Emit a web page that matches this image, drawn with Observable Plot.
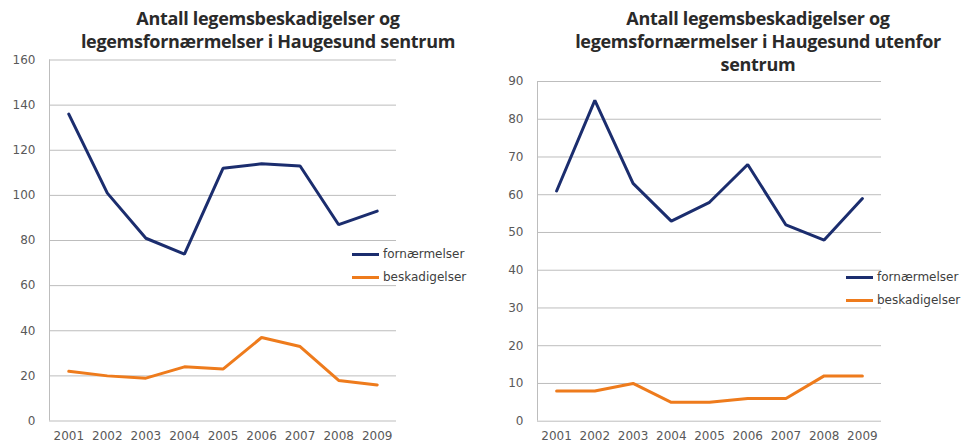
<!DOCTYPE html>
<html>
<head>
<meta charset="utf-8">
<script src="https://cdn.jsdelivr.net/npm/d3@7"></script>
<script src="https://cdn.jsdelivr.net/npm/@observablehq/plot@0.6"></script>
<style>
  html, body { margin: 0; padding: 0; background: #fff; }
  #root { position: relative; width: 961px; height: 443px; overflow: hidden; }
  .panel { position: absolute; top: 0; }
  .title { position: absolute; text-align: center; font-family: "Open Sans", sans-serif; font-weight: 700;
           color: #2a2a2a; font-size: 18px; line-height: 23px; white-space: nowrap; letter-spacing: -0.3px; }
  .legend { position: absolute; font-family: "DejaVu Sans", sans-serif; font-size: 12px; color: #404040; }
  .legend div { position: absolute; white-space: nowrap; height: 16px; line-height: 16px; }
  .legend span.sw { position: absolute; left: 0; top: 6.5px; width: 27px; height: 3px; }
  .legend span.tx { position: absolute; left: 31px; top: 0; }
</style>
</head>
<body>
<div id="root"></div>
<script>
const years = [2001, 2002, 2003, 2004, 2005, 2006, 2007, 2008, 2009];
const seriesNames = ["fornærmelser", "beskadigelser"];

const sentrumFornaermelser = [136, 101, 81, 74, 112, 114, 113, 87, 93];
const sentrumBeskadigelser = [22, 20, 19, 24, 23, 37, 33, 18, 16];
const sentrumTicks = [0, 20, 40, 60, 80, 100, 120, 140, 160];

const utenforFornaermelser = [61, 85, 63, 53, 58, 68, 52, 48, 59];
const utenforBeskadigelser = [8, 8, 10, 5, 5, 6, 6, 12, 12];
const utenforTicks = [0, 10, 20, 30, 40, 50, 60, 70, 80, 90];

const titleSentrum = ["Antall legemsbeskadigelser og", "legemsfornærmelser i Haugesund sentrum"];
const titleUtenfor = ["Antall legemsbeskadigelser og", "legemsfornærmelser i Haugesund utenfor", "sentrum"];

const colors = {"fornærmelser": "#1b2d6e", "beskadigelser": "#ee7b1c"};

function rows(forn, besk) {
  const out = [];
  years.forEach((y, i) => out.push({year: y, value: forn[i], series: "fornærmelser"}));
  years.forEach((y, i) => out.push({year: y, value: besk[i], series: "beskadigelser"}));
  return out;
}

function makeChart(opts) {
  const data = rows(opts.forn, opts.besk);
  const xDomain = [years[0] - 0.5, years[years.length - 1] + 0.5];
  return Plot.plot({
    width: opts.width,
    height: 443,
    marginLeft: opts.ml,
    marginRight: opts.mr,
    marginTop: opts.mt,
    marginBottom: opts.mb,
    style: {fontFamily: "DejaVu Sans, sans-serif", fontSize: "12px", color: "#595959", background: "transparent"},
    x: {domain: xDomain, ticks: years, tickFormat: d => String(d), tickSize: 0, tickPadding: 10, label: null},
    y: {domain: [opts.yTicks[0], opts.yTicks[opts.yTicks.length - 1]], ticks: opts.yTicks, tickSize: 0, tickPadding: 14, label: null},
    color: {domain: seriesNames, range: seriesNames.map(s => colors[s])},
    marks: [
      Plot.ruleY(opts.yTicks, {stroke: "#bdbdbd", strokeWidth: 1}),
      Plot.ruleX([xDomain[0]], {stroke: "#bdbdbd", strokeWidth: 1}),
      Plot.lineY(data, {x: "year", y: "value", z: "series", stroke: "series", strokeWidth: 3, strokeLinejoin: "miter"})
    ]
  });
}

const root = document.getElementById("root");

function addPanel(left, chart, titleLines, titleBox, legendPos) {
  const p = document.createElement("div");
  p.className = "panel";
  p.style.left = left + "px";
  p.appendChild(chart);
  const t = document.createElement("div");
  t.className = "title";
  t.style.left = titleBox.left + "px";
  t.style.width = titleBox.width + "px";
  t.style.top = titleBox.top + "px";
  t.innerHTML = titleLines.map(s => s.replace(/&/g, "&amp;")).join("<br>");
  p.appendChild(t);
  const lg = document.createElement("div");
  lg.className = "legend";
  lg.style.left = legendPos.left + "px";
  lg.style.top = legendPos.top + "px";
  seriesNames.forEach((s, i) => {
    const row = document.createElement("div");
    row.style.top = (i * legendPos.gap) + "px";
    row.style.left = "0px";
    row.innerHTML = `<span class="sw" style="background:${colors[s]}"></span><span class="tx">${s}</span>`;
    lg.appendChild(row);
  });
  p.appendChild(lg);
  root.appendChild(p);
}

addPanel(0,
  makeChart({forn: sentrumFornaermelser, besk: sentrumBeskadigelser, yTicks: sentrumTicks, width: 480, ml: 49, mr: 84, mt: 59.5, mb: 22.5}),
  titleSentrum, {left: 38, width: 460, top: 7}, {left: 352, top: 246, gap: 23});

addPanel(480,
  makeChart({forn: utenforFornaermelser, besk: utenforBeskadigelser, yTicks: utenforTicks, width: 481, ml: 57, mr: 80, mt: 81, mb: 22.3}),
  titleUtenfor, {left: 48, width: 460, top: 7}, {left: 366, top: 269, gap: 23});
</script>
</body>
</html>
